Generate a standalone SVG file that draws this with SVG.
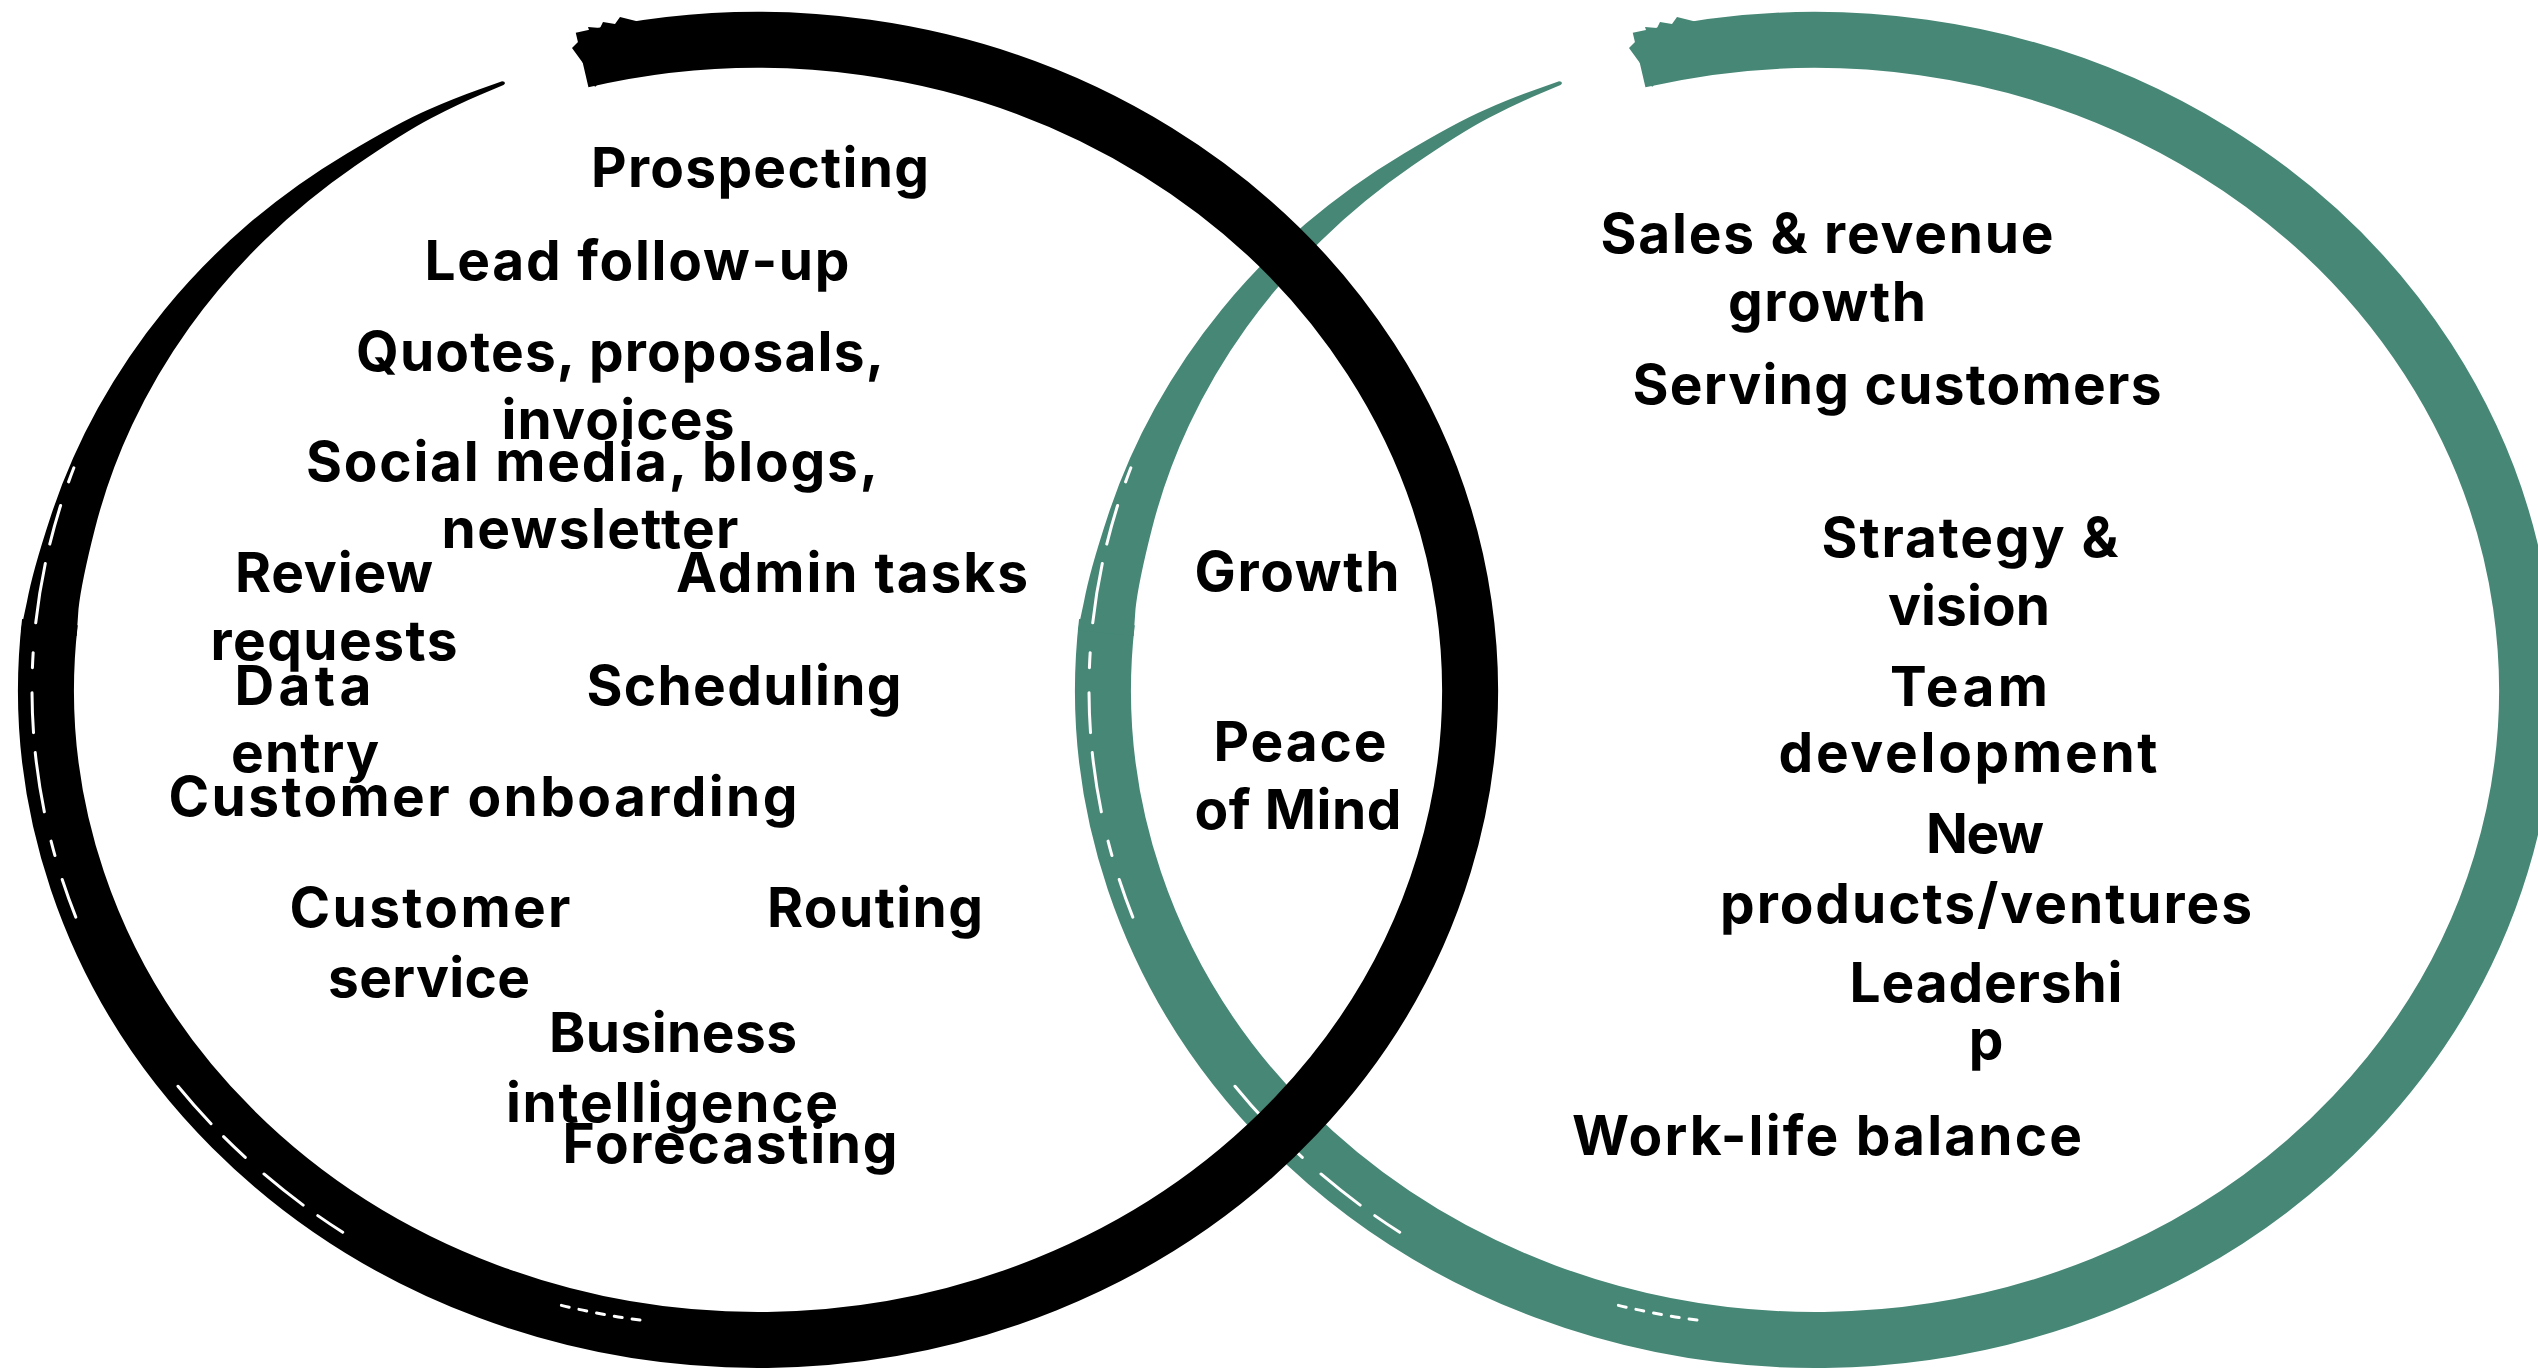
<svg xmlns="http://www.w3.org/2000/svg" xmlns:xlink="http://www.w3.org/1999/xlink" width="2538" height="1369" viewBox="0 0 2538 1369">
<style>
  text { font-family: Inter, "Open Sans", "Liberation Sans", sans-serif; font-weight: 700; font-size: 55px; fill: #000; text-anchor: middle; }
  .band { fill: none; stroke: currentColor; stroke-width: 56; }
  .taper { fill: currentColor; stroke: none; }
  .streak { fill: none; stroke: #fff; stroke-width: 3; stroke-linecap: round; }
</style>
<defs>
  <g id="ring">
    <path class="band" d="M582.1,60.1 A712,650 0 1 1 49.9,622.1"/>
    <path class="taper" d="M20.8,630.6 L27,601.6 Q32.2,572.45 50.75,516.2 Q69.3,459.9 98.1,407.85 Q126.9,355.8 164.8,309.45 Q202.7,263.1 248.6,223.85 Q294.5,184.6 346.95,153.4 Q399.4,122.2 427.55,109.95 Q455.7,97.7 478.9,89.5 L502.1,81.3 Q507,82 503.5,85.1 L481,94.6 Q458.5,104.1 431.55,118.05 Q404.6,132 355.35,165.8 Q306.1,199.6 264.3,240.45 Q222.5,281.3 189.2,327.75 Q155.9,374.2 132.2,424.85 Q108.5,475.5 94.95,528.7 Q81.4,581.95 78.5,608.9 L76.6,636 Z"/>
    <polygon class="taper" points="572,48 580,40 578,34 590,33 588,27 600,28 603,22 615,24 620,17 640,22 650,30 595,87 588,70"/>
    <path class="streak" d="M75.8,917.1 A726,664 0 0 1 75.8,462.9" stroke-dasharray="40 25 15 30 60 20"/>
    <path class="streak" d="M342.7,1232.3 A724,662 0 0 1 164.9,1069.7" stroke-dasharray="30 18 50 25"/>
    <path class="streak" d="M640,1320 A690,628 0 0 1 560,1305" stroke-dasharray="8 10"/>
  </g>
</defs>
<g id="circle-right" color="#468776">
  <use xlink:href="#ring" href="#ring" x="1057" y="0"/>
</g>
<g id="circle-left" color="#000000">
  <use xlink:href="#ring" href="#ring" x="0" y="0"/>
</g>
<g id="tasks">
  <g id="t-prospecting"><text x="760" y="187" textLength="338">Prospecting</text></g>
  <g id="t-lead"><text x="637" y="280" textLength="425">Lead follow-up</text></g>
  <g id="t-quotes"><text x="620" y="371" textLength="528">Quotes, proposals,</text><text x="618" y="439" textLength="233">invoices</text></g>
  <g id="t-social"><text x="592" y="481" textLength="572">Social media, blogs,</text><text x="590" y="548" textLength="297">newsletter</text></g>
  <g id="t-review"><text x="334" y="592" textLength="198">Review</text><text x="334" y="660" textLength="247">requests</text></g>
  <g id="t-admin"><text x="852" y="592" textLength="352">Admin tasks</text></g>
  <g id="t-data"><text x="303" y="705" textLength="137">Data</text><text x="305" y="772" textLength="148">entry</text></g>
  <g id="t-scheduling"><text x="744" y="705" textLength="315">Scheduling</text></g>
  <g id="t-onboarding"><text x="483" y="816" textLength="629">Customer onboarding</text></g>
  <g id="t-service"><text x="430" y="927" textLength="281">Customer</text><text x="429" y="997" textLength="202">service</text></g>
  <g id="t-routing"><text x="875" y="927" textLength="216">Routing</text></g>
  <g id="t-bi"><text x="673" y="1052" textLength="248">Business</text><text x="672" y="1122" textLength="332">intelligence</text></g>
  <g id="t-forecasting"><text x="730" y="1163" textLength="335">Forecasting</text></g>
</g>
<g id="overlap">
  <g id="t-growth"><text x="1297" y="591" textLength="205">Growth</text></g>
  <g id="t-peace"><text x="1300" y="761" textLength="173">Peace</text><text x="1298" y="829" textLength="207">of Mind</text></g>
</g>
<g id="goals">
  <g id="t-sales"><text x="1827" y="253" textLength="453">Sales &amp; revenue</text><text x="1827" y="321" textLength="198">growth</text></g>
  <g id="t-serving"><text x="1897" y="404" textLength="529">Serving customers</text></g>
  <g id="t-strategy"><text x="1970" y="557" textLength="297">Strategy &amp;</text><text x="1969" y="625" textLength="162">vision</text></g>
  <g id="t-team"><text x="1969" y="706" textLength="158">Team</text><text x="1968" y="772" textLength="379">development</text></g>
  <g id="t-new"><text x="1985" y="853" textLength="118">New</text><text x="1986" y="923" textLength="532">products/ventures</text></g>
  <g id="t-leadership"><text x="1986" y="1002" textLength="273">Leadershi</text><text x="1986" y="1059">p</text></g>
  <g id="t-worklife"><text x="1827" y="1155" textLength="510">Work-life balance</text></g>
</g>
</svg>
